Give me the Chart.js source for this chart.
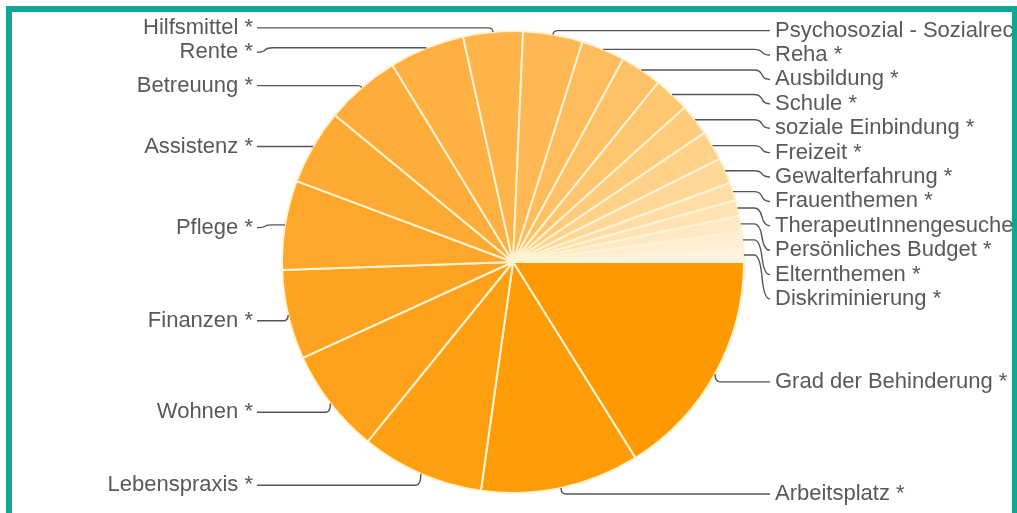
<!DOCTYPE html>
<html>
<head>
<meta charset="utf-8">
<script src="https://cdn.jsdelivr.net/npm/chart.js@4.4.1/dist/chart.umd.min.js"></script>
<style>
html, body { margin: 0; padding: 0; background: #fff; overflow: hidden; }
#wrap { position: relative; width: 1017px; height: 513px; }
#pie { position: absolute; left: 0; top: 0; }
#frame {
    position: absolute; left: 6px; top: 6px; width: 1011px; height: 530px;
    box-sizing: border-box; border: 6px solid #10a596; border-right-width: 5px;
    pointer-events: none;
}
</style>
</head>
<body>
<div id="wrap">
    <canvas id="pie" width="1017" height="513"></canvas>
    <div id="frame"></div>
</div>
<script>
// Themen, sortiert nach Anzahl (wie im Original)
const categories = [
    'Grad der Behinderung *', 'Arbeitsplatz *', 'Lebenspraxis *', 'Wohnen *',
    'Finanzen *', 'Pflege *', 'Assistenz *', 'Betreuung *', 'Rente *',
    'Hilfsmittel *', 'Psychosozial - Sozialrecht *', 'Reha *', 'Ausbildung *',
    'Schule *', 'soziale Einbindung *', 'Freizeit *', 'Gewalterfahrung *',
    'Frauenthemen *', 'TherapeutInnengesuche *', 'Persönliches Budget *',
    'Elternthemen *', 'Diskriminierung *'
];
const counts = [116, 80, 62, 53, 45, 45, 38, 38, 38, 30, 30, 22, 21, 18, 16, 15, 13, 9, 8, 8, 8, 7];
const sliceColors = [
    '#ff9900', '#ff9c08', '#ff9f12', '#ffa11a', '#ffa422', '#ffa72a', '#ffaa32',
    '#ffad3a', '#ffb042', '#ffb44a', '#ffb853', '#ffbc5c', '#ffc166', '#ffc670',
    '#ffcb7c', '#ffd189', '#ffd797', '#ffdda6', '#ffe3b5', '#ffe8c4', '#ffeed3', '#fff3e1'
];

// Labels links/rechts neben der Torte, mit Verbindungslinien
const leaderLabels = {
    id: 'leaderLabels',
    afterDatasetsDraw(chart) {
        const ctx = chart.ctx;
        const arcs = chart.getDatasetMeta(0).data;
        if (!arcs.length) return;
        const cx = arcs[0].x, cy = arcs[0].y, r = arcs[0].outerRadius;
        const gap = 24.4, minY = 27, maxY = 494;
        const left = [], right = [];

        arcs.forEach((arc, i) => {
            const mid = (arc.startAngle + arc.endAngle) / 2;
            const item = {
                text: chart.data.labels[i],
                ax: cx + r * Math.cos(mid),
                ay: cy + r * Math.sin(mid),
                target: cy + (r + 8) * Math.sin(mid) + 4
            };
            (Math.cos(mid) >= 0 ? right : left).push(item);
        });

        function place(list) {
            list.sort((a, b) => a.target - b.target);
            let prev = -Infinity;
            list.forEach(it => {
                it.y = Math.max(it.target, prev + gap, minY);
                prev = it.y;
            });
            let next = Infinity;
            for (let i = list.length - 1; i >= 0; i--) {
                list[i].y = Math.min(list[i].y, next - gap, maxY);
                next = list[i].y;
            }
        }
        place(left);
        place(right);

        ctx.save();
        ctx.font = '22px "Liberation Sans", Arial, sans-serif';
        ctx.textBaseline = 'middle';
        ctx.strokeStyle = '#555';
        ctx.lineWidth = 1.4;
        ctx.fillStyle = '#595959';

        function draw(list, isRight) {
            const dir = isRight ? 1 : -1;
            const labelX = isRight ? cx + r + 31 : cx - r - 29;
            const endX = isRight ? labelX - 5 : labelX + 4;
            list.forEach(it => {
                const {ax, ay, y} = it;
                ctx.beginPath();
                ctx.moveTo(ax, ay);
                const sameSide = Math.sign(y - cy) === Math.sign(ay - cy);
                const outward = sameSide && Math.abs(y - cy) > Math.abs(ay - cy);
                if (Math.abs(y - ay) < 1) {
                    ctx.lineTo(endX, y);
                } else if (outward) {
                    ctx.quadraticCurveTo(ax, y, ax + dir * 5, y);
                    ctx.lineTo(endX, y);
                } else {
                    let bx = endX - dir * 16;
                    if ((bx - ax) * dir < 0) bx = ax;
                    ctx.lineTo(bx, ay);
                    ctx.quadraticCurveTo(bx + dir * 6, ay, bx + dir * 8, (ay + y) / 2);
                    ctx.quadraticCurveTo(bx + dir * 10, y, endX, y);
                }
                ctx.stroke();
                ctx.textAlign = isRight ? 'left' : 'right';
                ctx.fillText(it.text, labelX, y);
            });
        }
        draw(left, false);
        draw(right, true);
        ctx.restore();
    }
};

new Chart(document.getElementById('pie'), {
    type: 'pie',
    data: {
        labels: categories,
        datasets: [{
            data: counts,
            backgroundColor: sliceColors,
            borderColor: '#fff3d2',
            borderWidth: 2
        }]
    },
    options: {
        responsive: false,
        animation: false,
        rotation: 90,
        layout: { padding: { top: 30, bottom: 19, left: 9, right: 0 } },
        plugins: {
            legend: { display: false },
            tooltip: { enabled: false }
        }
    },
    plugins: [leaderLabels]
});
</script>
</body>
</html>
